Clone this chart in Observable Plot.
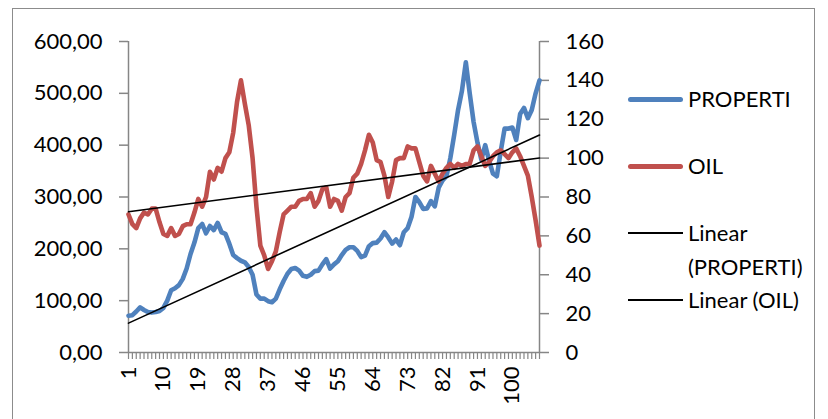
<!DOCTYPE html>
<html>
<head>
<meta charset="utf-8">
<script src="https://cdn.jsdelivr.net/npm/d3@7"></script>
<script src="https://cdn.jsdelivr.net/npm/@observablehq/plot@0.6"></script>
<style>
  body { margin: 0; background: #fff; }
  #wrap { position: relative; width: 828px; height: 419px; overflow: hidden; font-family: Lato, "Noto Sans", sans-serif; }
  #frame { position: absolute; left: 12px; top: 8px; width: 803px; height: 440px; border: 1px solid #8c8c8c; box-sizing: border-box; }
  #chart { position: absolute; left: 0; top: 0; }
  .leg { position: absolute; left: 0; top: 0; font-size: 22px; color: #000; }
  .sw { position: absolute; left: 628px; width: 55px; }
  .lab { position: absolute; left: 688px; line-height: 34px; white-space: nowrap; }
</style>
</head>
<body>
<div id="wrap">
  <div id="frame"></div>
  <div id="chart"></div>
  <div class="leg" id="legend"></div>
</div>
<script>
// Periods 1..107 and the two monthly series
const periods = d3.range(1, 108);
const labelTicks = [1, 10, 19, 28, 37, 46, 55, 64, 73, 82, 91, 100];

// PROPERTI index (left axis)
const properti = [
  71, 72, 79, 87, 82, 78, 77, 78, 80, 86,
  100, 120, 124, 130, 142, 162, 190, 212, 240, 248,
  230, 244, 236, 250, 232, 229, 210, 188, 182, 177,
  174, 165, 150, 112, 104, 104, 99, 97, 104, 122,
  138, 152, 161, 163, 158, 148, 146, 150, 157, 158,
  170, 180, 162, 170, 176, 188, 198, 203, 203, 196,
  184, 187, 205, 211, 212, 220, 232, 222, 210, 218,
  207, 232, 240, 262, 300, 290, 277, 278, 292, 282,
  318, 332, 340, 375, 420, 468, 505, 560, 500, 445,
  405, 372, 400, 370, 345, 340, 388, 432, 432, 434,
  410, 460, 472, 452, 468, 500, 525
];

// OIL price (right axis)
const oil = [
  71, 66, 64, 69, 72, 71, 74, 74, 67, 61,
  60, 64, 60, 61, 65, 66, 66, 72, 79, 75,
  80, 93, 89, 95, 93, 100, 103, 113, 129, 140,
  128, 117, 100, 75, 55, 50, 43, 47, 52, 62,
  71, 73, 75, 75, 78, 79, 79, 82, 75, 78,
  84, 85, 75, 79, 78, 73, 80, 82, 90, 92,
  97, 104, 112, 108, 99, 98, 91, 80, 88, 99,
  100, 100, 106, 105, 105, 98, 91, 88, 96, 92,
  88, 92, 95, 97, 95, 97, 96, 97, 97, 104,
  106, 101, 96, 98, 101, 103, 104, 102, 100, 103,
  105, 101, 96, 91, 80, 68, 55
];

const leftTicks = [0, 100, 200, 300, 400, 500, 600];
const rightTicks = [0, 20, 40, 60, 80, 100, 120, 140, 160];

const blue = "#4f81bd";
const red = "#c0504d";
const axisGray = "#868686";
const k = 600 / 160; // right-axis units onto the left scale

const rows = periods.map((t, i) => ({t, prop: properti[i], oil: oil[i]}));

const chart = Plot.plot({
  width: 828,
  height: 419,
  marginLeft: 128,
  marginRight: 289,
  marginTop: 41,
  marginBottom: 67,
  style: {fontFamily: "Lato, 'Noto Sans', sans-serif", fontSize: "22px", color: "#000", background: "transparent", overflow: "visible"},
  x: {type: "linear", domain: [1, 107]},
  y: {domain: [0, 600]},
  marks: [
    // category ticks under the baseline
    Plot.axisX({ticks: periods, tickSize: 7, tickFormat: () => "", label: null, stroke: axisGray, strokeWidth: 1.2, strokeOpacity: 1}),
    Plot.axisX({ticks: labelTicks, tickSize: 0, tickRotate: -90, tickPadding: 14, tickFormat: d => String(d), label: null}),
    Plot.axisY({anchor: "left", ticks: leftTicks, tickSize: 9, tickPadding: 17, stroke: axisGray, strokeWidth: 1.5, strokeOpacity: 1,
      tickFormat: d => d.toFixed(2).replace(".", ","), label: null}),
    Plot.axisY({anchor: "right", ticks: rightTicks.map(v => v * k), tickSize: 9, tickPadding: 17, stroke: axisGray, strokeWidth: 1.5, strokeOpacity: 1,
      tickFormat: d => String(Math.round(d / k)), label: null}),
    Plot.ruleX([1], {stroke: axisGray, strokeWidth: 1.5}),
    Plot.ruleX([107], {stroke: axisGray, strokeWidth: 1.5}),
    Plot.ruleY([0], {stroke: axisGray, strokeWidth: 1.5}),
    Plot.lineY(rows, {x: "t", y: "prop", stroke: blue, strokeWidth: 4.6, strokeLinejoin: "round", strokeLinecap: "round"}),
    Plot.lineY(rows, {x: "t", y: d => d.oil * k, stroke: red, strokeWidth: 4.6, strokeLinejoin: "round", strokeLinecap: "round"}),
    Plot.linearRegressionY(rows, {x: "t", y: "prop", stroke: "#000", strokeWidth: 1.6, ci: 0}),
    Plot.linearRegressionY(rows, {x: "t", y: d => d.oil * k, stroke: "#000", strokeWidth: 1.6, ci: 0})
  ]
});
document.getElementById("chart").appendChild(chart);

// Legend to the right of the plot
const legendItems = [
  {label: "PROPERTI", color: blue, width: 5, y: 99},
  {label: "OIL", color: red, width: 5, y: 166},
  {label: "Linear<br>(PROPERTI)", color: "#000", width: 1.6, y: 233},
  {label: "Linear (OIL)", color: "#000", width: 1.6, y: 300}
];
const legend = document.getElementById("legend");
for (const item of legendItems) {
  const sw = document.createElement("div");
  sw.className = "sw";
  sw.style.top = (item.y - item.width / 2) + "px";
  sw.style.height = item.width + "px";
  sw.style.background = item.color;
  sw.style.borderRadius = item.width > 2 ? "3px" : "0";
  legend.appendChild(sw);
  const lab = document.createElement("div");
  lab.className = "lab";
  lab.style.top = (item.y - 17) + "px";
  lab.innerHTML = item.label;
  legend.appendChild(lab);
}
</script>
</body>
</html>
